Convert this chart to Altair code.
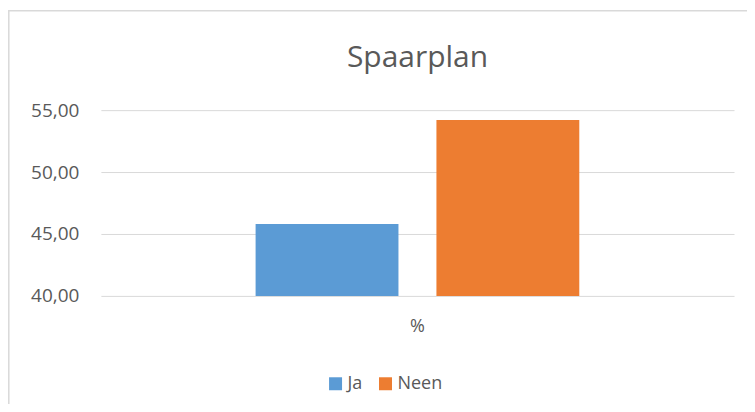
import altair as alt
import pandas as pd

categories = ["%"]
series = ["Ja", "Neen"]
values = [45.8, 54.2]
colors = ["#5B9BD5", "#ED7D31"]
y_ticks = [40, 45, 50, 55]
title_text = ["Spaarplan"]

df = pd.DataFrame({"cat": categories * len(series), "serie": series, "waarde": values})

FONT = "Open Sans"
GREY = "#595959"

bars = alt.Chart(df).mark_bar().encode(
    x=alt.X("cat:N", title=None,
            scale=alt.Scale(paddingInner=0, paddingOuter=0.478),
            axis=alt.Axis(labelAngle=0, domain=False, ticks=False, labelPadding=22,
                          labelFontSize=18, labelColor=GREY, labelFont=FONT)),
    xOffset=alt.XOffset("serie:N", scale=alt.Scale(paddingInner=0.21, paddingOuter=0)),
    y=alt.Y("waarde:Q", title=None,
            scale=alt.Scale(domain=[40, 55], zero=False, nice=False),
            axis=alt.Axis(values=y_ticks, domain=False, ticks=False, labelPadding=22,
                          labelExpr="replace(format(datum.value, '.2f'), '.', ',')",
                          labelFontSize=19, labelColor=GREY, labelFont=FONT,
                          gridColor="#D9D9D9", gridWidth=1)),
    y2=alt.datum(40),
    color=alt.Color("serie:N", title=None,
                    scale=alt.Scale(domain=series, range=colors),
                    legend=alt.Legend(orient="none", legendX=226, legendY=265,
                                      direction="horizontal", symbolType="square",
                                      symbolSize=169, symbolStrokeWidth=0,
                                      labelFontSize=18, labelColor=GREY, labelFont=FONT,
                                      labelOffset=3, columnPadding=14, padding=0)),
)

border = alt.Chart(pd.DataFrame({"b": [0]})).mark_rect(
    fill=None, stroke="#D9D9D9", strokeWidth=1.5
).encode(x=alt.value(-92.2), x2=alt.value(700), y=alt.value(-99.5), y2=alt.value(400))

title = alt.Chart(pd.DataFrame({"t": title_text})).mark_text(
    font=FONT, fontSize=30, color=GREY, align="center", baseline="alphabetic"
).encode(text="t:N", x=alt.value(317), y=alt.value(-43))

chart = alt.layer(border, bars, title).properties(
    width=634, height=186,
    autosize=alt.AutoSizeParams(type="none"),
    padding={"left": 93, "top": 102, "right": 13, "bottom": 108},
).configure_view(stroke=None).configure_axisX(grid=False)

chart.save("out.html", embed_options={"renderer": "svg", "actions": False})
